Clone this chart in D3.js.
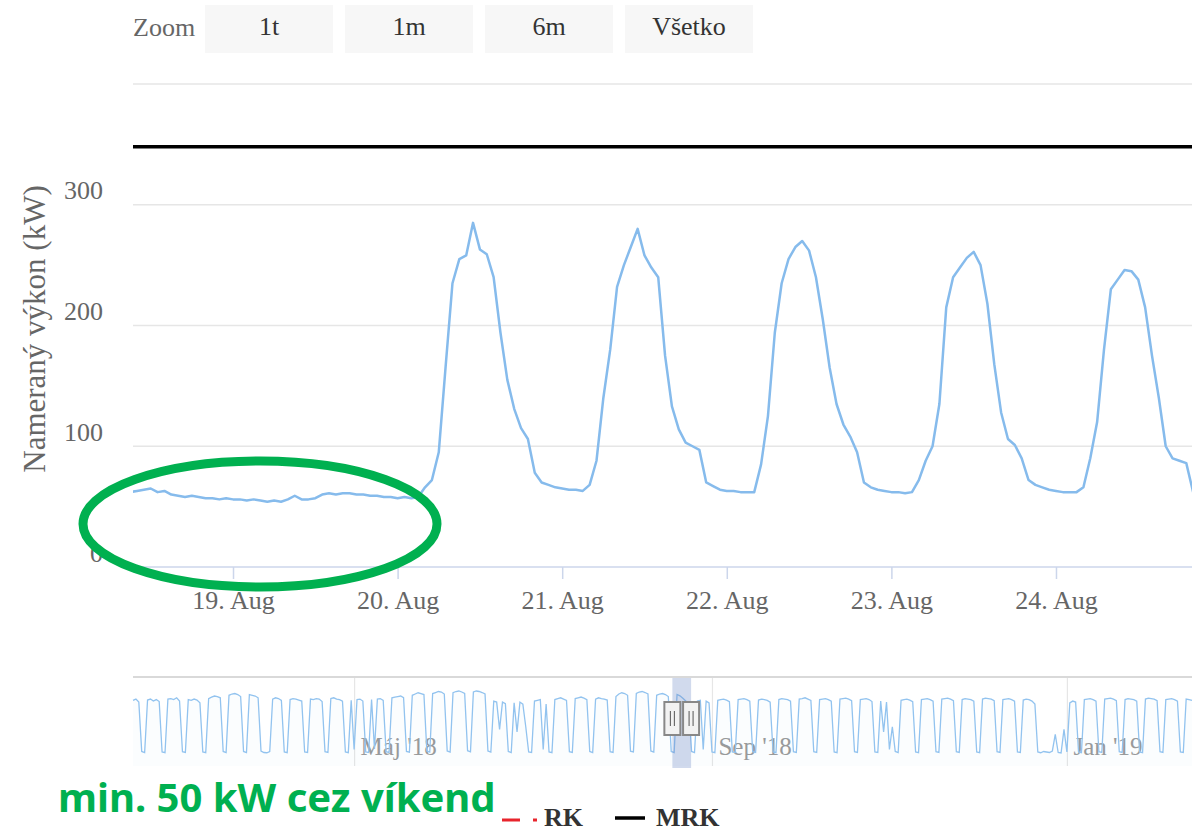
<!DOCTYPE html>
<html>
<head>
<meta charset="utf-8">
<script src="https://cdn.jsdelivr.net/npm/d3@7"></script>
<style>
  body { margin: 0; background: #fff; }
  text { font-family: "Liberation Serif", serif; }
</style>
</head>
<body>
<script>

// hourly measured power (kW), starting 18 Aug 2018 09:00
let powerStart = new Date(2018, 7, 18, 9);
let powerValues = [
  62, 63, 64, 65, 62, 63, 60, 59, 58, 59, 58, 57, 57, 56, 57,
  56, 56, 55, 56, 55, 54, 55, 54, 56, 59, 56, 56, 57, 60, 61, 60, 61, 61, 60, 60, 59, 59, 58, 58,
  57, 58, 57, 58, 66, 72, 95, 166, 235, 255, 258, 285, 263, 259, 240, 194, 155, 131, 115, 106, 78, 70, 68, 66,
  65, 64, 64, 63, 68, 88, 140, 180, 232, 250, 265, 280, 258, 248, 240, 175, 133, 114, 103, 100, 97, 70, 67, 64,
  63, 63, 62, 62, 62, 85, 125, 194, 235, 255, 265, 270, 262, 240, 205, 165, 135, 118, 108, 95, 70, 66, 64, 63,
  62, 62, 61, 62, 72, 88, 100, 135, 215, 240, 248, 256, 261, 250, 218, 168, 128, 106, 101, 90, 72, 68, 66, 64,
  63, 62, 62, 62, 66, 90, 120, 180, 230, 238, 246, 245, 238, 215, 175, 140, 100, 90, 88, 86, 62
];

let mrkValue = 348;

let yTicks = [0, 100, 200, 300, 400];
let dayTicks = [new Date(2018, 7, 19), new Date(2018, 7, 20), new Date(2018, 7, 21),
                new Date(2018, 7, 22), new Date(2018, 7, 23), new Date(2018, 7, 24)];
let dayLabels = ['19. Aug', '20. Aug', '21. Aug', '22. Aug', '23. Aug', '24. Aug'];

let zoomButtons = ['1t', '1m', '6m', 'Všetko'];

// navigator: daily values, starting Wed 14 Feb 2018 (rows = weeks Mon..Sun)
let navStart = new Date(2018, 1, 14);
let navValues = [
  265, 270, 258, 62, 58,
  266, 270, 262, 268, 260, 60, 57,
  270, 272, 268, 275, 262, 61, 58,
  268, 265, 270, 266, 255, 60, 57,
  272, 278, 282, 280, 275, 62, 58,
  285, 290, 292, 288, 280, 62, 58,
  288, 285, 282, 275, 64, 58, 57,
  62, 270, 275, 272, 265, 60, 57,
  268, 272, 270, 266, 262, 60, 58,
  270, 268, 272, 270, 260, 61, 58,
  272, 275, 270, 268, 262, 60, 57,
  265, 70, 268, 270, 262, 60, 58,
  268, 72, 270, 272, 265, 61, 58,
  275, 278, 280, 282, 276, 62, 59,
  285, 290, 295, 292, 288, 64, 60,
  292, 296, 300, 298, 290, 64, 60,
  295, 300, 302, 298, 292, 65, 61,
  298, 302, 300, 296, 290, 64, 60,
  262, 258, 150, 258, 252, 62, 58,
  255, 140, 258, 250, 160, 60, 58,
  262, 265, 268, 70, 250, 60, 57,
  268, 272, 275, 270, 265, 61, 58,
  272, 275, 278, 274, 268, 62, 58,
  270, 275, 272, 270, 266, 61, 58,
  280, 290, 295, 292, 285, 63, 60,
  292, 298, 300, 296, 290, 64, 60,
  285, 290, 292, 288, 280, 62, 58,
  288, 283, 273, 262, 250, 62, 58,
  262, 265, 70, 262, 255, 60, 57,
  265, 268, 270, 266, 260, 60, 58,
  268, 270, 272, 268, 262, 61, 58,
  266, 270, 268, 265, 258, 60, 57,
  268, 272, 270, 268, 262, 61, 58,
  270, 272, 275, 270, 265, 61, 58,
  268, 270, 272, 268, 262, 60, 57,
  270, 272, 274, 270, 264, 61, 58,
  268, 270, 272, 268, 260, 60, 58,
  262, 140, 258, 70, 160, 62, 58,
  265, 268, 270, 266, 260, 60, 57,
  268, 270, 272, 268, 262, 61, 58,
  270, 272, 274, 270, 264, 61, 58,
  268, 272, 270, 268, 262, 60, 57,
  270, 274, 272, 270, 264, 61, 58,
  268, 270, 272, 268, 262, 60, 58,
  266, 270, 268, 262, 250, 60, 57,
  62, 60, 58, 64, 130, 58, 56,
  150, 60, 255, 262, 258, 60, 57,
  268, 270, 272, 268, 262, 61, 58,
  270, 272, 274, 270, 264, 61, 58,
  268, 272, 270, 268, 262, 60, 57,
  270, 274, 272, 270, 264, 61, 58,
  268, 270, 272, 268, 262, 60, 58,
  270, 268, 265
];
let navTicks = [new Date(2018, 4, 1), new Date(2018, 8, 1), new Date(2019, 0, 1)];
let navLabels = ["Máj '18", "Sep '18", "Jan '19"];
let navWindow = [new Date(2018, 7, 18, 9, 25), new Date(2018, 7, 24, 19, 50)];

let legendItems = ['RK', 'MRK'];
let noteText = 'min. 50 kW cez víkend';

let width = 1196;
let height = 833;
let plotLeft = 133;
let plotRight = 1192;

let svg = d3.select('body').append('svg');
let xScale, yScale, navX, navY;
let powerData = powerValues.map((v, i) => [d3.timeHour.offset(powerStart, i), v]);
let navData = navValues.map((v, i) => [d3.timeDay.offset(navStart, i), v]);

function drawCanvas() {
  svg.attr('width', width).attr('height', height).style('display', 'block');
  svg.append('rect').attr('width', width).attr('height', height).attr('fill', '#fff');
}

function generateScales() {
  xScale = d3.scaleTime()
             .domain(navWindow)
             .range([plotLeft, plotRight]);
  yScale = d3.scaleLinear()
             .domain([0, 400])
             .range([567, 84]);
  navX = d3.scaleTime()
           .domain([navStart, d3.timeDay.offset(navStart, navValues.length - 1)])
           .range([plotLeft, plotRight]);
  navY = d3.scaleLinear()
           .domain(d3.extent(navValues))
           .range([753, 691]);
}

function drawZoomBar() {
  svg.append('text').attr('x', 133).attr('y', 36)
     .attr('font-size', 26).attr('fill', '#666').text('Zoom');
  let b = svg.selectAll('.btn').data(zoomButtons).enter().append('g')
     .attr('transform', (d, i) => 'translate(' + (205 + i * 140) + ',5)');
  b.append('rect').attr('width', 128).attr('height', 48).attr('fill', '#f7f7f7');
  b.append('text').attr('x', 64).attr('y', 30).attr('text-anchor', 'middle')
   .attr('font-size', 26).attr('fill', '#333').text(d => d);
}

function generateAxes() {
  // grid
  svg.append('g').selectAll('line').data(yTicks).enter().append('line')
     .attr('x1', plotLeft).attr('x2', plotRight)
     .attr('y1', d => yScale(d)).attr('y2', d => yScale(d))
     .attr('stroke', d => d === 0 ? '#ccd6eb' : '#e6e6e6').attr('stroke-width', 1.5);

  let yAxis = d3.axisLeft(yScale).tickValues(yTicks.slice(0, 4)).tickSize(0);
  let gy = svg.append('g').attr('transform', 'translate(103,0)').call(yAxis);
  gy.select('.domain').remove();
  gy.selectAll('text').attr('font-family', 'Liberation Serif').attr('font-size', 26)
    .attr('fill', '#666').attr('x', 0).attr('dy', -6).attr('text-anchor', 'end')
    .attr('dominant-baseline', 'auto');

  svg.append('text')
     .attr('transform', 'translate(45,' + 329 + ') rotate(-90)')
     .attr('text-anchor', 'middle').attr('font-size', 31).attr('fill', '#666')
     .text('Nameraný výkon (kW)');

  let xAxis = d3.axisBottom(xScale).tickValues(dayTicks)
                .tickFormat((d, i) => dayLabels[i]).tickSize(12);
  let gx = svg.append('g').attr('transform', 'translate(0,567)').call(xAxis);
  gx.select('.domain').remove();
  gx.selectAll('line').attr('stroke', '#ccd6eb').attr('stroke-width', 1.5);
  gx.selectAll('text').attr('font-family', 'Liberation Serif').attr('font-size', 26)
    .attr('fill', '#666').attr('y', 42).attr('dy', 0);
}

function drawSeries() {
  svg.append('clipPath').attr('id', 'plotclip').append('rect')
     .attr('x', plotLeft).attr('y', 60).attr('width', plotRight - plotLeft).attr('height', 520);

  svg.append('line')
     .attr('x1', plotLeft).attr('x2', plotRight)
     .attr('y1', yScale(mrkValue)).attr('y2', yScale(mrkValue))
     .attr('stroke', '#000').attr('stroke-width', 3.5);

  let line = d3.line().x(d => xScale(d[0])).y(d => yScale(d[1]));
  svg.append('path').datum(powerData)
     .attr('clip-path', 'url(#plotclip)')
     .attr('d', line).attr('fill', 'none')
     .attr('stroke', '#86bbec').attr('stroke-width', 2.5)
     .attr('stroke-linejoin', 'round');
}

function drawNavigator() {
  svg.append('line').attr('x1', plotLeft).attr('x2', plotRight)
     .attr('y1', 677).attr('y2', 677).attr('stroke', '#ccc').attr('stroke-width', 1.5);

  let ax = d3.axisBottom(navX).tickValues(navTicks).tickFormat((d, i) => navLabels[i]).tickSize(-88);
  let g = svg.append('g').attr('transform', 'translate(0,766)').call(ax);
  g.select('.domain').remove();
  g.selectAll('line').attr('stroke', '#e6e6e6').attr('stroke-width', 1.2);
  g.selectAll('text').attr('font-family', 'Liberation Serif').attr('font-size', 25)
   .attr('fill', '#999').attr('text-anchor', 'start').attr('x', 6).attr('y', -11).attr('dy', 0);

  let area = d3.area().x(d => navX(d[0])).y0(766).y1(d => navY(d[1]));
  svg.append('path').datum(navData).attr('d', area).attr('fill', 'rgba(124,181,236,0.03)');
  let line = d3.line().x(d => navX(d[0])).y(d => navY(d[1]));
  svg.append('path').datum(navData).attr('d', line).attr('fill', 'none')
     .attr('stroke', '#92c3ef').attr('stroke-width', 1.3);

  let x0 = navX(navWindow[0]), x1 = navX(navWindow[1]);
  svg.append('rect').attr('x', x0).attr('y', 678).attr('width', x1 - x0).attr('height', 90)
     .attr('fill', 'rgba(102,133,194,0.3)');
  [x0, x1].forEach(x => {
    let h = svg.append('g').attr('transform', 'translate(' + (x - 8) + ',702)');
    h.append('rect').attr('width', 16).attr('height', 33).attr('fill', '#f2f2f2')
     .attr('stroke', '#888').attr('stroke-width', 2);
    h.append('line').attr('x1', 6).attr('x2', 6).attr('y1', 9).attr('y2', 24).attr('stroke', '#555');
    h.append('line').attr('x1', 10).attr('x2', 10).attr('y1', 9).attr('y2', 24).attr('stroke', '#555');
  });
}

function drawLegend() {
  svg.append('line').attr('x1', 502).attr('x2', 540).attr('y1', 820).attr('y2', 820)
     .attr('stroke', '#e8242c').attr('stroke-width', 3).attr('stroke-dasharray', '18,13,4,20');
  svg.append('text').attr('x', 544).attr('y', 826).attr('font-size', 26)
     .attr('font-weight', 'bold').attr('fill', '#333').text(legendItems[0]);
  svg.append('line').attr('x1', 615).attr('x2', 645).attr('y1', 818).attr('y2', 818)
     .attr('stroke', '#000').attr('stroke-width', 3.5);
  svg.append('text').attr('x', 656).attr('y', 826).attr('font-size', 26)
     .attr('font-weight', 'bold').attr('fill', '#333').text(legendItems[1]);
}

function drawNote() {
  svg.append('ellipse').attr('cx', 260).attr('cy', 524).attr('rx', 177).attr('ry', 63)
     .attr('fill', 'none').attr('stroke', '#00b050').attr('stroke-width', 9);
  svg.append('text').attr('x', 58).attr('y', 812)
     .style('font-family', '"Noto Sans", sans-serif').attr('font-weight', 'bold')
     .attr('font-size', 40).attr('fill', '#00b050').text(noteText);
}

drawCanvas();
generateScales();
drawZoomBar();
generateAxes();
drawSeries();
drawNavigator();
drawLegend();
drawNote();
</script>
</body>
</html>
